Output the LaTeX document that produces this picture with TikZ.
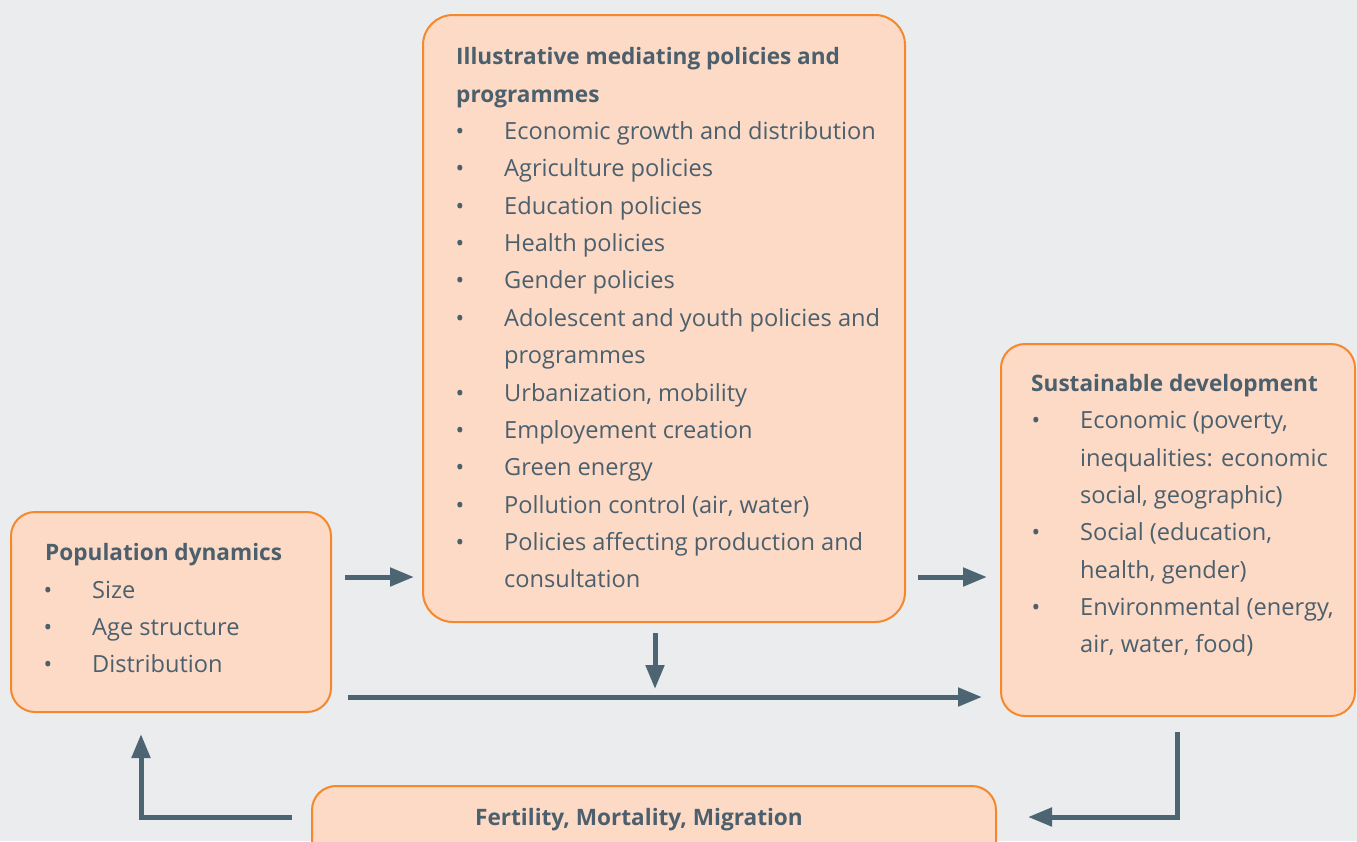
\documentclass[tikz,border=0pt]{standalone}
\usepackage{fontspec}
\setmainfont{Open Sans}
\usetikzlibrary{arrows.meta}
\definecolor{bgcol}{HTML}{EBECEE}
\definecolor{boxfill}{HTML}{FCDAC5}
\definecolor{boxline}{HTML}{F5882C}
\definecolor{ink}{HTML}{4B5F6D}
\definecolor{arrowcol}{HTML}{4D6472}
\tikzset{
  box/.style={draw=boxline, fill=boxfill, line width=2pt, anchor=north west, inner sep=0pt},
  head/.style={anchor=base west, inner sep=0pt, text=ink, font=\fontsize{22.6}{27}\selectfont\bfseries},
  item/.style={anchor=base west, inner sep=0pt, text=ink, font=\fontsize{23.6}{28}\selectfont},
  dot/.style={anchor=base, inner sep=0pt, text=ink, font=\fontsize{23}{28}\selectfont},
  arr/.style={draw=arrowcol, line width=5pt, -{Triangle[length=24pt,width=18pt]}},
}
\begin{document}
\begin{tikzpicture}[x=1pt,y=-1pt]
\useasboundingbox (0,0) rectangle (1357,841);
\clip (0,0) rectangle (1357,841);
\fill[bgcol] (0,0) rectangle (1357,841);

% boxes
\node[box, rounded corners=30pt, minimum width=482pt, minimum height=607pt] (mid) at (422,14) {};
\node[box, rounded corners=24pt, minimum width=320pt, minimum height=200pt] (pop) at (10,511) {};
\node[box, rounded corners=24pt, minimum width=354pt, minimum height=372pt] (sus) at (1000,343) {};
\node[box, rounded corners=24pt, minimum width=684pt, minimum height=90pt] (fmm) at (311,785) {};

% mediating policies
\node[head] (midh1) at (456,64) {Illustrative mediating policies and};
\node[head] (midh2) at (456,102) {programmes};
\foreach \y/\t [count=\i] in {139/Economic growth and distribution,
    176/Agriculture policies,
    214/Education policies,
    251/Health policies,
    288/Gender policies,
    326/Adolescent and youth policies and,
    401/{Urbanization, mobility},
    438/Employement creation,
    475/Green energy,
    513/{Pollution control (air, water)},
    550/Policies affecting production and}{
  \node[dot] (midb\i) at (460,\y) {•};
  \node[item] (midt\i) at (504,\y) {\t};
}
\node[item] (midc1) at (504,363) {programmes};
\node[item] (midc2) at (504,587) {consultation};

% population dynamics
\node[head] (poph) at (45,560) {Population dynamics};
\foreach \y/\t [count=\i] in {598/Size, 635/Age structure, 672/Distribution}{
  \node[dot] (popb\i) at (48,\y) {•};
  \node[item] (popt\i) at (92,\y) {\t};
}

% sustainable development
\node[head] (sush) at (1031,391) {Sustainable development};
\foreach \y [count=\i] in {428, 540, 615}{
  \node[dot] (susb\i) at (1036,\y) {•};
}
\node[item] (sust1) at (1080,428) {Economic (poverty,};
\node[item] (sust2) at (1080,466) {inequalities: economic};
\node[item] (sust3) at (1080,503) {social, geographic)};
\node[item] (sust4) at (1080,540) {Social (education,};
\node[item] (sust5) at (1080,578) {health, gender)};
\node[item] (sust6) at (1080,615) {Environmental (energy,};
\node[item] (sust7) at (1080,652) {air, water, food)};

% demographic drivers
\node[head, anchor=base] (fmmt) at (639,825) {Fertility, Mortality, Migration};

% connectors
\coordinate (rowa) at (0,577);
\coordinate (rowb) at (0,697);
\coordinate (rowc) at (0,817);
\coordinate (colm) at (655,0);
\coordinate (colr) at (1177,0);
\coordinate (coll) at (141,0);
\draw[arr] ([xshift=13pt]pop.east |- rowa) -- ([xshift=-8pt]mid.west |- rowa);
\draw[arr] ([xshift=12pt]mid.east |- rowa) -- ([xshift=-13pt]sus.west |- rowa);
\draw[arr] ([yshift=-10pt]mid.south -| colm) -- (colm |- 0,689);
\draw[arr] ([xshift=16pt]pop.east |- rowb) -- ([xshift=-18pt]sus.west |- rowb);
\draw[arr] ([yshift=-15pt]sus.south -| colr) -- (colr |- rowc) -- ([xshift=31pt]fmm.east |- rowc);
\draw[arr] ([xshift=-19pt]fmm.west |- rowc) -- (coll |- rowc) -- ([yshift=-21pt]pop.south -| coll);
\end{tikzpicture}
\end{document}
